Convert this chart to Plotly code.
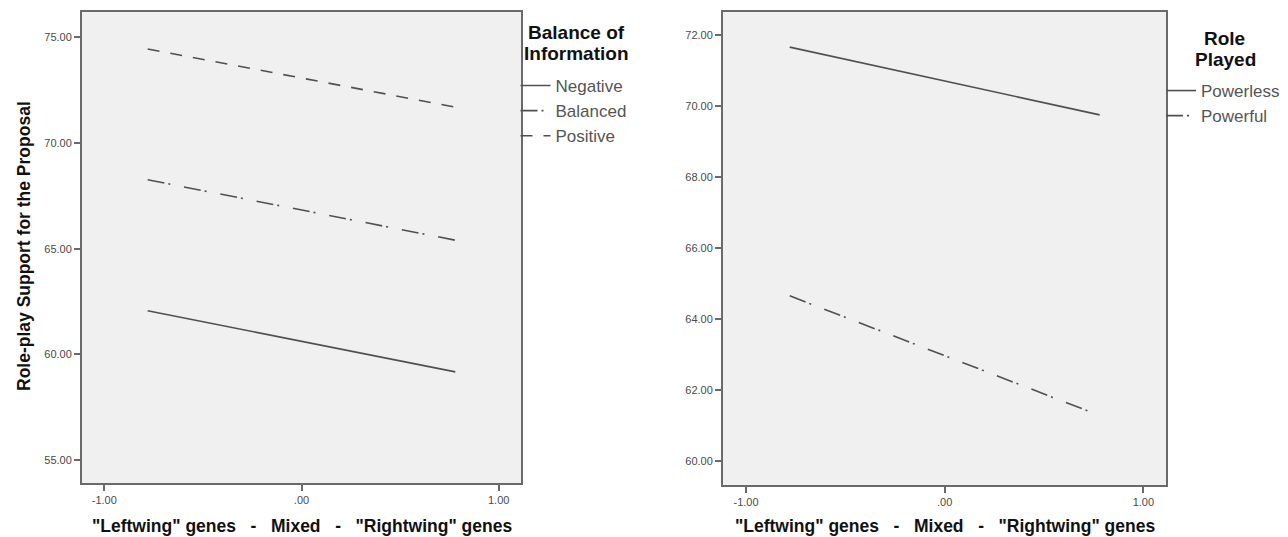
import plotly.graph_objects as go

# ---------------- data ----------------
x_levels = [-0.78, 0.78]

balance_names = ["Negative", "Balanced", "Positive"]
negative = [62.06, 59.17]
balanced = [68.26, 65.40]
positive = [74.45, 71.70]

role_names = ["Powerless", "Powerful"]
powerless = [71.66, 69.75]
powerful = [64.65, 61.28]

x_tickvals = [-1, 0, 1]
x_ticktext = ["-1.00", ".00", "1.00"]
left_yticks = [55, 60, 65, 70, 75]
left_yticktext = ["55.00", "60.00", "65.00", "70.00", "75.00"]
right_yticks = [60, 62, 64, 66, 68, 70, 72]
right_yticktext = ["60.00", "62.00", "64.00", "66.00", "68.00", "70.00", "72.00"]

y_title = "Role-play Support for the Proposal"
NB = "\u00a0"
x_title = ("\"Leftwing\" genes" + NB * 3 + "-" + NB * 3 + "Mixed" + NB * 3 + "-"
           + NB * 3 + "\"Rightwing\" genes")
left_legend_title = ["Balance of", "Information"]
right_legend_title = ["Role", "Played"]

# ---------------- styles ----------------
FONT = "Liberation Sans, Arial, sans-serif"
LINE_COL = "#505050"
AXIS_COL = "#6a6a6a"
dash_solid = "solid"
dash_dashdot = "17px,4px,2px,14px"
dash_dash = "12px,11px"

W, H = 1288, 537
def px_x(p):
    return p / W
def px_y(p):
    return 1 - p / H

fig = go.Figure()

left_series = [negative, balanced, positive]
left_dashes = [dash_solid, dash_dashdot, dash_dash]
for name, vals, d in zip(balance_names, left_series, left_dashes):
    fig.add_trace(go.Scatter(
        x=x_levels, y=vals, mode="lines", name=name,
        line=dict(color=LINE_COL, width=1.6, dash=d),
        xaxis="x", yaxis="y", legend="legend", legendgroup=name,
        hoverinfo="skip"))

right_series = [powerless, powerful]
right_dashes = [dash_solid, dash_dashdot]
for name, vals, d in zip(role_names, right_series, right_dashes):
    fig.add_trace(go.Scatter(
        x=x_levels, y=vals, mode="lines", name=name,
        line=dict(color=LINE_COL, width=1.6, dash=d),
        xaxis="x2", yaxis="y2", legend="legend2", legendgroup=name,
        hoverinfo="skip"))

axis_common = dict(
    showline=True, linecolor=AXIS_COL, linewidth=2, mirror=True,
    ticks="outside", ticklen=6, tickwidth=2, tickcolor=AXIS_COL,
    showgrid=False, zeroline=False,
    tickfont=dict(family=FONT, size=11, color="#4a4a4a"),
)

y_top = px_y(12)

legend_common = dict(xanchor="left", yanchor="top",
                     bgcolor="rgba(0,0,0,0)", borderwidth=0, tracegroupgap=0,
                     traceorder="grouped",
                     font=dict(family=FONT, size=17, color="#555555"),
                     itemwidth=30)

fig.update_layout(
    width=W, height=H,
    margin=dict(l=0, r=0, t=0, b=0),
    paper_bgcolor="white",
    plot_bgcolor="#f0f0f0",
    showlegend=True,
    xaxis=dict(domain=[px_x(82), px_x(521)], range=[-1.113, 1.113],
               tickvals=x_tickvals, ticktext=x_ticktext, anchor="y", **axis_common),
    yaxis=dict(domain=[px_y(483), y_top], range=[53.91, 76.2],
               tickvals=left_yticks, ticktext=left_yticktext, anchor="x", **axis_common),
    xaxis2=dict(domain=[px_x(723), px_x(1166)], range=[-1.116, 1.114],
                tickvals=x_tickvals, ticktext=x_ticktext, anchor="y2", **axis_common),
    yaxis2=dict(domain=[px_y(485), y_top], range=[59.32, 72.65],
                tickvals=right_yticks, ticktext=right_yticktext, anchor="x2", **axis_common),
    legend=dict(x=px_x(515.5), y=px_y(68), **legend_common),
    legend2=dict(x=px_x(1161), y=px_y(73), **legend_common),
)

title_font = dict(family=FONT, size=19, color="#111111", weight="bold")
annotations = [
    dict(text=y_title, x=px_x(24), y=px_y(246), xref="paper", yref="paper",
         textangle=-90, showarrow=False, xanchor="center", yanchor="middle",
         font=dict(family=FONT, size=17.5, color="#111111", weight="bold")),
    dict(text=x_title, x=px_x(302), y=px_y(526), xref="paper", yref="paper",
         showarrow=False, xanchor="center", yanchor="middle",
         font=dict(family=FONT, size=17.5, color="#111111", weight="bold")),
    dict(text=x_title, x=px_x(945), y=px_y(526), xref="paper", yref="paper",
         showarrow=False, xanchor="center", yanchor="middle",
         font=dict(family=FONT, size=17.5, color="#111111", weight="bold")),
    dict(text=left_legend_title[0], x=px_x(576), y=px_y(32), xref="paper", yref="paper",
         showarrow=False, xanchor="center", yanchor="middle", font=title_font),
    dict(text=left_legend_title[1], x=px_x(576), y=px_y(53), xref="paper", yref="paper",
         showarrow=False, xanchor="center", yanchor="middle", font=title_font),
    dict(text=right_legend_title[0], x=px_x(1224), y=px_y(39), xref="paper", yref="paper",
         showarrow=False, xanchor="center", yanchor="middle", font=title_font),
    dict(text=right_legend_title[1], x=px_x(1225), y=px_y(60), xref="paper", yref="paper",
         showarrow=False, xanchor="center", yanchor="middle", font=title_font),
]
fig.update_layout(annotations=annotations)

fig.write_html("out.html", config={"displayModeBar": False},
               post_script="document.body.style.margin='0';")
